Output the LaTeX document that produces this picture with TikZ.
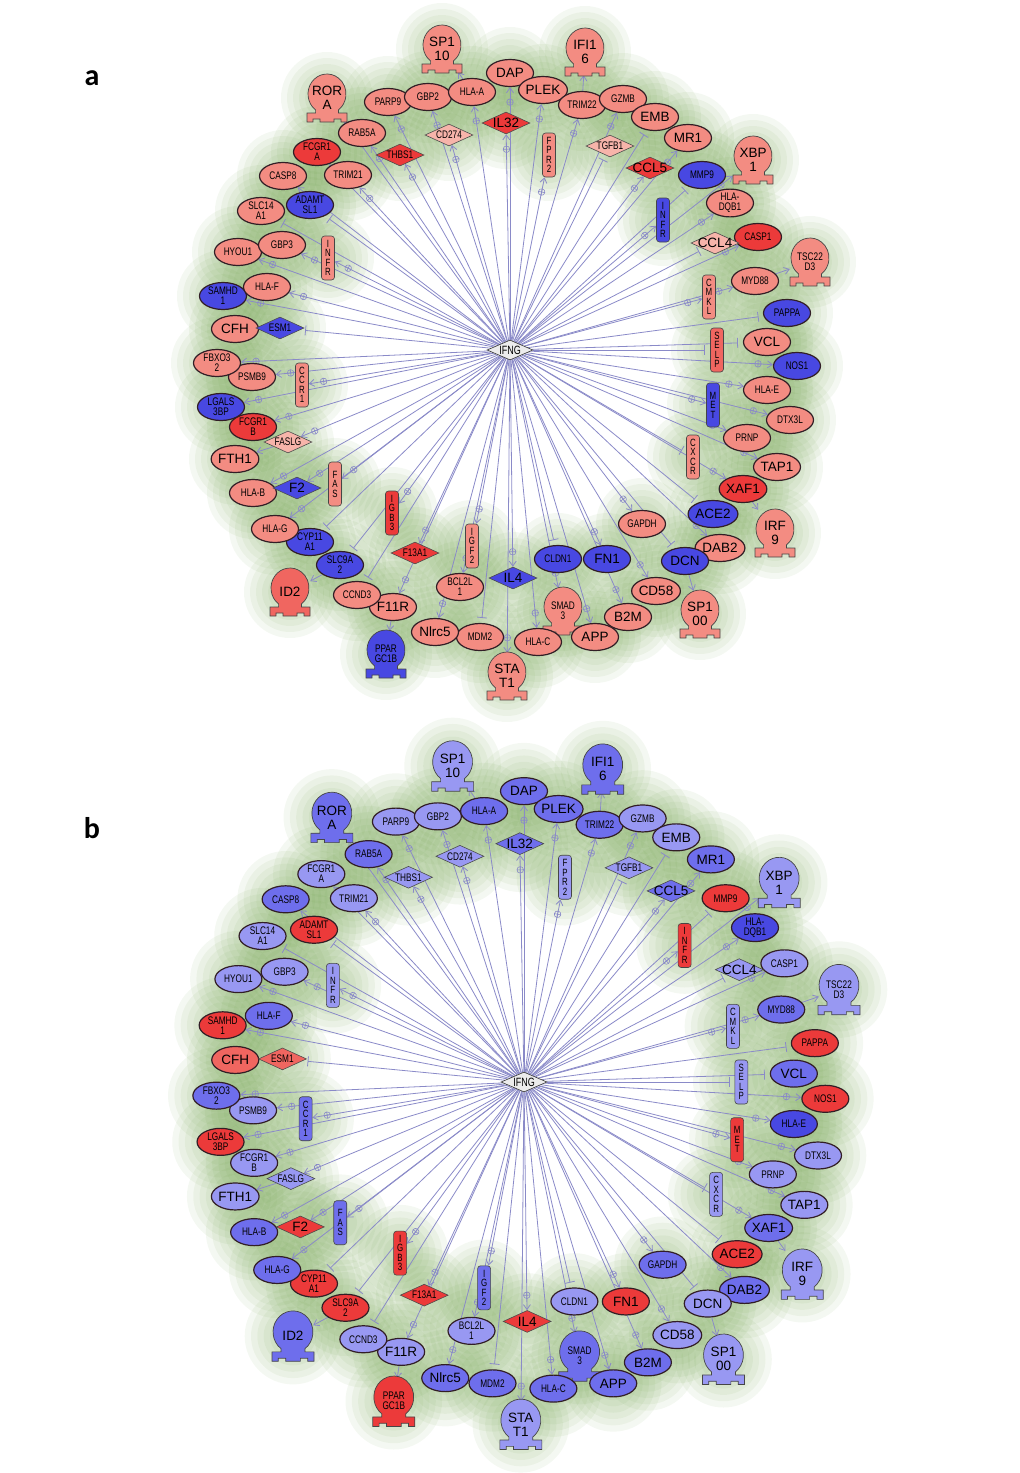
\documentclass[tikz,border=0pt]{standalone}
\usepackage{fontspec}
\setmainfont{Liberation Sans}
\newfontfamily\narrowfont[FakeStretch=0.75]{Liberation Sans}
\newfontfamily\tagfont{Carlito}
\usetikzlibrary{shapes.geometric,arrows.meta,decorations.markings}

\pgfdeclarelayer{glow}
\pgfdeclarelayer{edges}
\pgfsetlayers{glow,edges,main}

\definecolor{sa}{RGB}{243,140,130}
\definecolor{ls}{RGB}{247,180,170}
\definecolor{sr}{RGB}{240,102,96}
\definecolor{rd}{RGB}{236,58,58}
\definecolor{bl}{RGB}{72,72,226}
\definecolor{mb}{RGB}{110,110,236}
\definecolor{lb}{RGB}{152,152,242}
\definecolor{edgec}{RGB}{138,138,200}
\definecolor{rim}{RGB}{50,30,38}
\definecolor{glowc}{RGB}{95,150,55}

\tikzset{
  sm/.style={font=\narrowfont\fontsize{11}{10}\selectfont},
  big/.style={font=\fontsize{13.5}{14}\selectfont},
  gene/.style={ellipse, draw=rim, line width=1.2pt, minimum width=47pt,
    minimum height=27pt, inner sep=0pt, align=center},
  lig/.style={diamond, draw=gray!60!black, line width=.6pt, aspect=2.2,
    minimum width=48pt, minimum height=22pt, inner sep=0pt},
  rcp/.style={rectangle, rounded corners=3pt, draw=gray!55!black, line width=.6pt,
    minimum width=13pt, minimum height=44pt, inner sep=1pt, align=center,
    font=\narrowfont\fontsize{10.5}{9.5}\selectfont},
  tfshape/.style={draw=gray!55!black, line width=.7pt},
  tflabel/.style={minimum width=40pt, minimum height=46pt, inner sep=0pt, align=center},
  act/.style={draw=edgec, line width=.8pt, -{Straight Barb[length=5pt,width=7pt]},
    postaction={decorate, decoration={markings, mark=at position -15pt with
      {\draw[edgec, line width=.6pt, -] (0,0) circle (3.3pt)
        (-3.3pt,0) -- (3.3pt,0) (0,-3.3pt) -- (0,3.3pt);}}}},
  inh/.style={draw=edgec, line width=.8pt, -{Bar[width=10pt]}, shorten >=5pt},
  pl/.style={draw=edgec, line width=.8pt, -{Straight Barb[length=5pt,width=7pt]}},
  off/.style={draw=none}
}

\newcommand\glowspot[2]{%
  \begin{pgfonlayer}{glow}
    \foreach \r in {16,22,28,34,40,46} \fill[glowc, opacity=.065] (#1,#2) circle (\r);
  \end{pgfonlayer}}

% #1 = name prefix, #2 = 1 (panel a colours) or 2 (panel b colours)
\newcommand\genering[2]{%
  \node[lig, fill=gray!15, draw=gray!40!black, minimum width=46pt, minimum height=20pt,
    label={[font=\narrowfont\fontsize{12}{12}\selectfont]center:IFNG}] (#1-IFNG) at (0,0) {};
  % transcription factors
  \foreach \n/\x/\y/\lbl/\f/\ca/\cb/\k in {
      SP110/-68/-305/{SP1\\10}/big/sa/lb/off,
      RORA/-183/-256/{ROR\\A}/big/sa/mb/act,
      IFI16/75/-302/{IFI1\\6}/big/sa/mb/off,
      XBP1/243/-194/{XBP\\1}/big/sa/lb/act,
      TSC22D3/300/-92/{TSC22\\D3}/sm/sa/lb/off,
      IRF9/265/179/{IRF\\9}/big/sa/lb/off,
      SP100/190/260/{SP1\\00}/big/sa/lb/off,
      STAT1/-3/322/{STA\\T1}/big/sa/lb/act,
      PPARGC1B/-124/300/{PPAR\\GC1B}/sm/bl/rd/off,
      ID2/-220/238/ID2/big/sr/mb/off,
      SMAD3/53/257/{SMAD\\3}/sm/sa/mb/act}{
    \ifnum#2=1 \edef\nodecol{\ca}\else\edef\nodecol{\cb}\fi
    \glowspot{\x}{\y+4}
    \filldraw[tfshape, fill=\nodecol, shift={(\x,\y)}] (-11.4,16)
      arc[start angle=126.87, end angle=413.13, x radius=19, y radius=20]
      -- (11.4,19) -- (20,19) -- (20,28) -- (14,28) -- (14,25) -- (7,25) -- (7,28)
      -- (-7,28) -- (-7,25) -- (-14,25) -- (-14,28) -- (-20,28) -- (-20,19)
      -- (-11.4,19) -- cycle;
    \node[tflabel, \f] (#1-\n) at (\x,\y+4) {\lbl};
    \begin{pgfonlayer}{edges}\draw[\k] (#1-IFNG) -- (#1-\n);\end{pgfonlayer}
  }
  % genes
  \foreach \n/\x/\y/\lbl/\f/\ca/\cb/\k in {
      PARP9/-122/-248/PARP9/sm/sa/lb/act, GBP2/-82/-253/GBP2/sm/sa/lb/act,
      HLAA/-38/-258/HLA-A/sm/sa/mb/act, DAP/0/-277/DAP/big/sa/mb/act,
      PLEK/33/-260/PLEK/big/sa/mb/act, TRIM22/72/-245/TRIM22/sm/sa/mb/act,
      GZMB/113/-251/GZMB/sm/sa/lb/act, EMB/145/-233/EMB/big/sa/lb/inh,
      MR1/178/-212/MR1/big/sa/mb/act, MMP9/192/-175/MMP9/sm/bl/rd/inh,
      HLADQB1/220/-147/{HLA-\\DQB1}/sm/sa/bl/act, CASP1/248/-113/CASP1/sm/rd/lb/act,
      MYD88/245/-69/MYD88/sm/sa/mb/act, PAPPA/277/-37/PAPPA/sm/bl/rd/inh,
      VCL/257/-8/VCL/big/sa/mb/inh, NOS1/287/16/NOS1/sm/bl/rd/act,
      HLAE/257/40/HLA-E/sm/sa/bl/act, DTX3L/280/70/DTX3L/sm/sa/lb/act,
      PRNP/237/88/PRNP/sm/sa/lb/act, TAP1/267/117/TAP1/big/sa/lb/act,
      XAF1/233/139/XAF1/big/rd/mb/act, ACE2/203/164/ACE2/big/bl/rd/inh,
      GAPDH/132/174/GAPDH/sm/sa/mb/act, DAB2/210/198/DAB2/big/sa/mb/act,
      DCN/175/211/DCN/big/bl/lb/inh, CD58/146/241/CD58/big/sa/lb/act,
      B2M/118/267/B2M/big/sa/mb/act, FN1/97/209/FN1/big/bl/rd/act,
      CLDN1/48/209/CLDN1/sm/bl/lb/inh, APP/85/287/APP/big/sa/mb/act,
      HLAC/28/292/HLA-C/sm/sa/mb/act, MDM2/-30/287/MDM2/sm/sa/mb/inh,
      Nlrc5/-75/282/Nlrc5/big/sa/mb/act, BCL2L1/-50/237/{BCL2L\\1}/sm/sa/lb/act,
      F11R/-117/257/F11R/big/sa/lb/act, CCND3/-153/245/CCND3/sm/sa/lb/inh,
      SLC9A2/-170/215/{SLC9A\\2}/sm/bl/rd/inh, CYP11A1/-200/192/{CYP11\\A1}/sm/bl/rd/inh,
      HLAG/-235/179/HLA-G/sm/sa/mb/act, HLAB/-257/143/HLA-B/sm/sa/mb/act,
      FTH1/-275/109/FTH1/big/sa/lb/off, FCGR1B/-257/77/{FCGR1\\B}/sm/rd/lb/act,
      LGALS3BP/-289/57/{LGALS\\3BP}/sm/bl/rd/act, PSMB9/-258/27/PSMB9/sm/sa/lb/act,
      FBXO32/-293/13/{FBXO3\\2}/sm/sa/mb/act, CFH/-275/-21/CFH/big/sa/sr/off,
      SAMHD1/-287/-54/{SAMHD\\1}/sm/bl/rd/act, HLAF/-243/-63/HLA-F/sm/sa/mb/act,
      HYOU1/-272/-98/HYOU1/sm/sa/lb/act, GBP3/-228/-105/GBP3/sm/sa/lb/act,
      SLC14A1/-249/-139/{SLC14\\A1}/sm/sa/lb/inh, ADAMTSL1/-200/-145/{ADAMT\\SL1}/sm/bl/rd/inh,
      CASP8/-227/-174/CASP8/sm/sa/mb/act, TRIM21/-162/-175/TRIM21/sm/sa/lb/act,
      FCGR1A/-193/-198/{FCGR1\\A}/sm/rd/lb/act, RAB5A/-148/-217/RAB5A/sm/sa/mb/act}{
    \ifnum#2=1 \edef\nodecol{\ca}\else\edef\nodecol{\cb}\fi
    \glowspot{\x}{\y}
    \node[gene, \f, fill=\nodecol] (#1-\n) at (\x,\y) {\lbl};
    \begin{pgfonlayer}{edges}\draw[\k] (#1-IFNG) -- (#1-\n);\end{pgfonlayer}
  }
  % ligands
  \foreach \n/\x/\y/\lbl/\f/\ca/\cb/\k in {
      CD274/-61/-215/CD274/sm/ls/lb/act, IL32/-4/-227/IL32/big/rd/mb/act,
      THBS1/-110/-195/THBS1/sm/rd/lb/act, TGFB1/100/-204/TGFB1/sm/ls/lb/inh,
      CCL5/140/-182/CCL5/big/rd/mb/act, CCL4/205/-107/CCL4/big/ls/lb/inh,
      ESM1/-230/-22/ESM1/sm/bl/sr/inh, FASLG/-222/92/FASLG/sm/ls/lb/act,
      F2/-213/138/F2/big/bl/rd/act, F13A1/-95/203/F13A1/sm/rd/rd/act,
      IL4/3/228/IL4/big/bl/rd/act}{
    \ifnum#2=1 \edef\nodecol{\ca}\else\edef\nodecol{\cb}\fi
    \glowspot{\x}{\y}
    \node[lig, fill=\nodecol, label={[\f]center:\lbl}] (#1-\n) at (\x,\y) {};
    \begin{pgfonlayer}{edges}\draw[\k] (#1-IFNG) -- (#1-\n);\end{pgfonlayer}
  }
  % receptors
  \foreach \n/\x/\y/\lbl/\ca/\cb/\k in {
      INFRL/-182/-92/{I\\N\\F\\R}/sa/lb/act, FPR2/39/-195/{F\\P\\R\\2}/sa/lb/act,
      INFRR/153/-130/{I\\N\\F\\R}/bl/rd/act, CMKL/199/-53/{C\\M\\K\\L}/sa/lb/act,
      SELP/207/0/{S\\E\\L\\P}/sr/lb/inh, MET/203/55/{M\\E\\T}/bl/rd/act,
      CXCR/183/107/{C\\X\\C\\R}/sa/lb/inh, CCR1/-208/35/{C\\C\\R\\1}/sa/mb/act,
      FAS/-175/134/{F\\A\\S}/sa/mb/act, IGB3/-118/163/{I\\G\\B\\3}/rd/rd/act,
      IGF2/-38/196/{I\\G\\F\\2}/sa/mb/act}{
    \ifnum#2=1 \edef\nodecol{\ca}\else\edef\nodecol{\cb}\fi
    \glowspot{\x}{\y}
    \node[rcp, fill=\nodecol] (#1-\n) at (\x,\y) {\lbl};
    \begin{pgfonlayer}{edges}\draw[\k] (#1-IFNG) -- (#1-\n);\end{pgfonlayer}
  }
  % links between genes of the ring
  \begin{pgfonlayer}{edges}
    \foreach \s/\e in {HLAA/SP110, TRIM22/IFI16, MYD88/TSC22D3, XAF1/IRF9,
        DCN/SP100, F11R/PPARGC1B, SLC9A2/ID2, FASLG/FTH1, ESM1/CFH}
      \draw[pl] (#1-\s) -- (#1-\e);
  \end{pgfonlayer}
}

\begin{document}
\begin{tikzpicture}[x=1pt, y=-1pt]
  \useasboundingbox (0,0) rectangle (1020,1473);
  \node[font=\tagfont\bfseries\fontsize{30}{30}\selectfont] (taga) at (92,78) {a};
  \node[font=\tagfont\bfseries\fontsize{30}{30}\selectfont] (tagb) at (92,828) {b};
  \begin{scope}[shift={(510,350)}]
    \genering{a}{1}
  \end{scope}
  \begin{scope}[shift={(524,1082)}, scale=1.05]
    \genering{b}{2}
  \end{scope}
\end{tikzpicture}
\end{document}
